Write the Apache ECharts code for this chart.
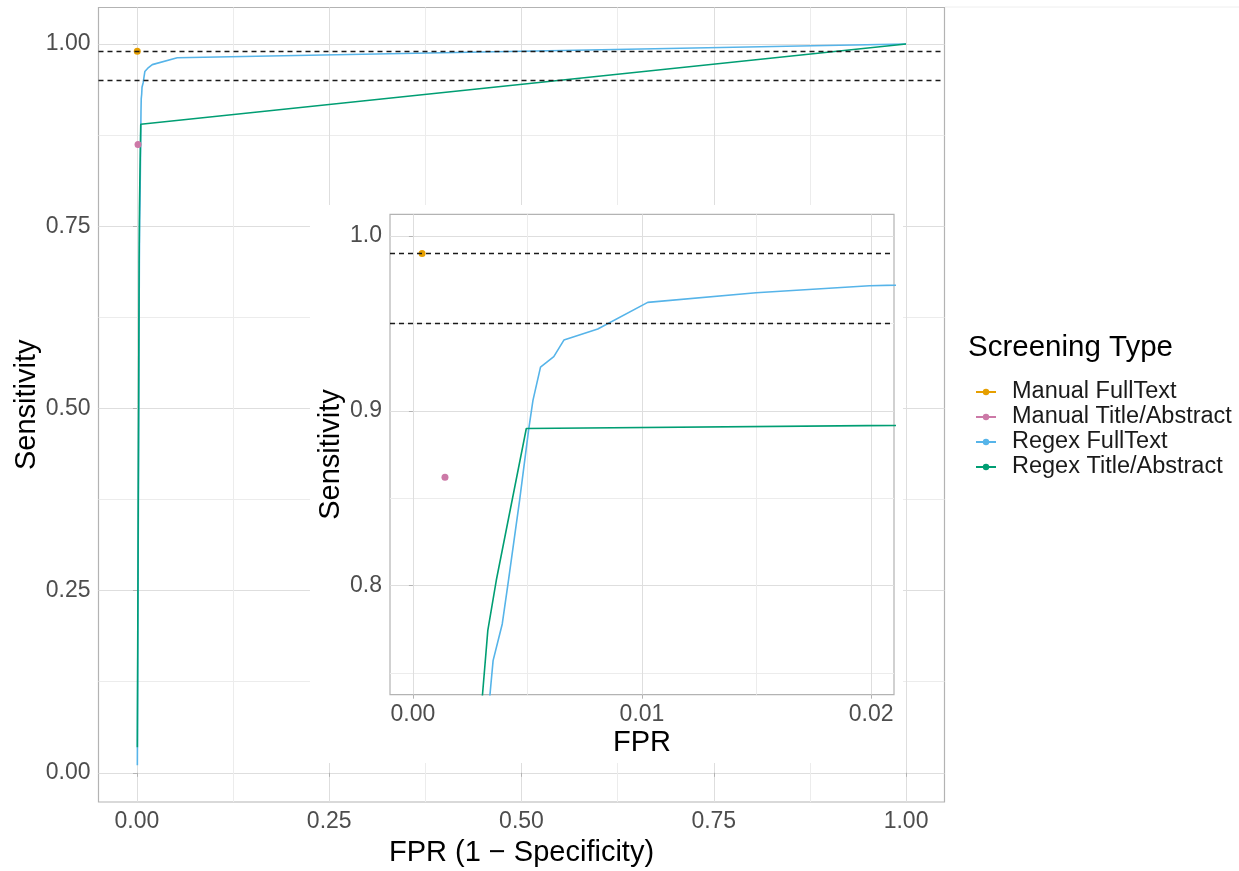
<!DOCTYPE html>
<html>
<head>
<meta charset="utf-8">
<script src="https://cdn.jsdelivr.net/npm/echarts@6/dist/echarts.min.js"></script>
<style>
  html, body { margin: 0; padding: 0; background: #fff; }
  #roc { width: 1239px; height: 871px; }
</style>
</head>
<body>
<div id="roc"></div>
<script>
// ROC points (FPR, sensitivity)
var regexFullFpr = [0.0005, 0.0031, 0.0035, 0.0039, 0.00415, 0.00466, 0.00506, 0.00524, 0.00557, 0.00615, 0.00659, 0.00807, 0.01025, 0.01498, 0.01993, 0.0524, 1];
var regexFullTpr = [0.0103, 0.70, 0.757, 0.778, 0.801, 0.849, 0.890, 0.906, 0.925, 0.931, 0.9405, 0.9468, 0.9621, 0.9676, 0.9716, 0.981, 1];
var regexTitleFpr = [0.0005, 0.0028, 0.00327, 0.00364, 0.00495, 1];
var regexTitleTpr = [0.035, 0.70, 0.7743, 0.803, 0.8899, 1];
var manualFullFpr = [0.0004];
var manualFullTpr = [0.99];
var manualTitleFpr = [0.0014];
var manualTitleTpr = [0.862];
var thresholds = [0.99, 0.95];

var seriesNames = ["Manual FullText", "Manual Title/Abstract", "Regex FullText", "Regex Title/Abstract"];
var seriesColors = ["#E69F00", "#CC79A7", "#56B4E9", "#009E73"];

var mainTicks = [0, 0.25, 0.5, 0.75, 1];
var mainMinor = [0.125, 0.375, 0.625, 0.875];
var insetXTicks = [0, 0.01, 0.02];
var insetXMinor = [0.005, 0.015];
var insetYTicks = [0.8, 0.9, 1.0];
var insetYMinor = [0.75, 0.85, 0.95];

var fontFam = '"Liberation Sans", Arial, sans-serif';

function pairs(xs, ys) {
  return xs.map(function (x, i) { return [x, ys[i]]; });
}

function majorAxis(grid, min, max, ticks, digits, name, gap, z) {
  return {
    type: "value", gridIndex: grid, min: min, max: max, z: z,
    name: name, nameLocation: "middle", nameGap: gap, nameMoveOverlap: false,
    nameTextStyle: { fontSize: 29, color: "#000", fontFamily: fontFam },
    axisLine: { show: false },
    axisTick: { show: true, length: 4, customValues: ticks, lineStyle: { color: "#b3b3b3", width: 1 } },
    axisLabel: {
      customValues: ticks, margin: 8, fontSize: 23, color: "#4d4d4d", fontFamily: fontFam,
      formatter: function (v) { return v.toFixed(digits); }
    },
    splitLine: { show: true, lineStyle: { color: "#dedede", width: 1 } }
  };
}

function minorAxis(grid, min, max, ticks, z) {
  return {
    type: "value", gridIndex: grid, min: min, max: max, z: z,
    axisLine: { show: false },
    axisTick: { show: false, customValues: ticks },
    axisLabel: { show: false, customValues: ticks },
    splitLine: { show: true, lineStyle: { color: "#ececec", width: 1 } }
  };
}

function dashed(z) {
  return {
    silent: true, symbol: "none", label: { show: false }, z: z,
    lineStyle: { color: "#1a1a1a", type: [5, 4], width: 1.4 },
    data: thresholds.map(function (v) { return { yAxis: v }; })
  };
}

var allData = [
  pairs(manualFullFpr, manualFullTpr),
  pairs(manualTitleFpr, manualTitleTpr),
  pairs(regexFullFpr, regexFullTpr),
  pairs(regexTitleFpr, regexTitleTpr)
];

var series = [];
[0, 1].forEach(function (g) {
  allData.forEach(function (d, i) {
    var isPoint = i < 2;
    var s = {
      name: seriesNames[i], type: "line", data: d,
      xAxisIndex: g * 2, yAxisIndex: g * 2,
      z: g ? 12 : 2,
      symbol: "circle", symbolSize: 7, showSymbol: isPoint,
      itemStyle: { color: seriesColors[i] },
      lineStyle: { color: seriesColors[i], width: 1.6 },
      silent: true, animation: false
    };
    if (i === 2) s.markLine = dashed(g ? 13 : 3);
    series.push(s);
  });
});

var chart = echarts.init(document.getElementById("roc"), null, { renderer: "canvas" });

var option = {
  animation: false,
  grid: [
    { left: 98.5, top: 7.5, width: 846, height: 794.5, outerBoundsMode: "none", show: true, borderColor: "#b3b3b3", borderWidth: 1.2, backgroundColor: "transparent" },
    { left: 390, top: 214.3, width: 504, height: 480.4, outerBoundsMode: "none", show: true, borderColor: "#b3b3b3", borderWidth: 1.2, backgroundColor: "transparent", z: 8 }
  ],
  xAxis: [
    majorAxis(0, -0.05, 1.05, mainTicks, 2, "FPR (1 \u2212 Specificity)", 36, 0),
    minorAxis(0, -0.05, 1.05, mainMinor, 0),
    majorAxis(1, -0.001, 0.021, insetXTicks, 2, "FPR", 34, 10),
    minorAxis(1, -0.001, 0.021, insetXMinor, 10)
  ],
  yAxis: [
    majorAxis(0, -0.04, 1.05, mainTicks, 2, "Sensitivity", 57, 0),
    minorAxis(0, -0.04, 1.05, mainMinor, 0),
    majorAxis(1, 0.7375, 1.0125, insetYTicks, 1, "Sensitivity", 45, 10),
    minorAxis(1, 0.7375, 1.0125, insetYMinor, 10)
  ],
  legend: {
    orient: "vertical", left: 970, top: 375,
    itemWidth: 20, itemHeight: 8, itemGap: 1,
    data: seriesNames,
    selectedMode: false,
    textStyle: { fontSize: 23.5, color: "#1a1a1a", fontFamily: fontFam, lineHeight: 24, padding: [0, 0, 0, 11] }
  },
  graphic: [
    { type: "rect", z: 5, silent: true, shape: { x: 310, y: 205, width: 593, height: 558 }, style: { fill: "#fff" } },
    { type: "line", z: 5, silent: true, shape: { x1: 945, y1: 7, x2: 1239, y2: 7 }, style: { stroke: "#eeeeee", lineWidth: 1 } },
    { type: "text", z: 5, silent: true, x: 968, y: 348, style: { text: "Screening Type", font: "29.5px " + fontFam, fill: "#000", verticalAlign: "middle" } }
  ],
  series: series
};

chart.setOption(option);
</script>
</body>
</html>
